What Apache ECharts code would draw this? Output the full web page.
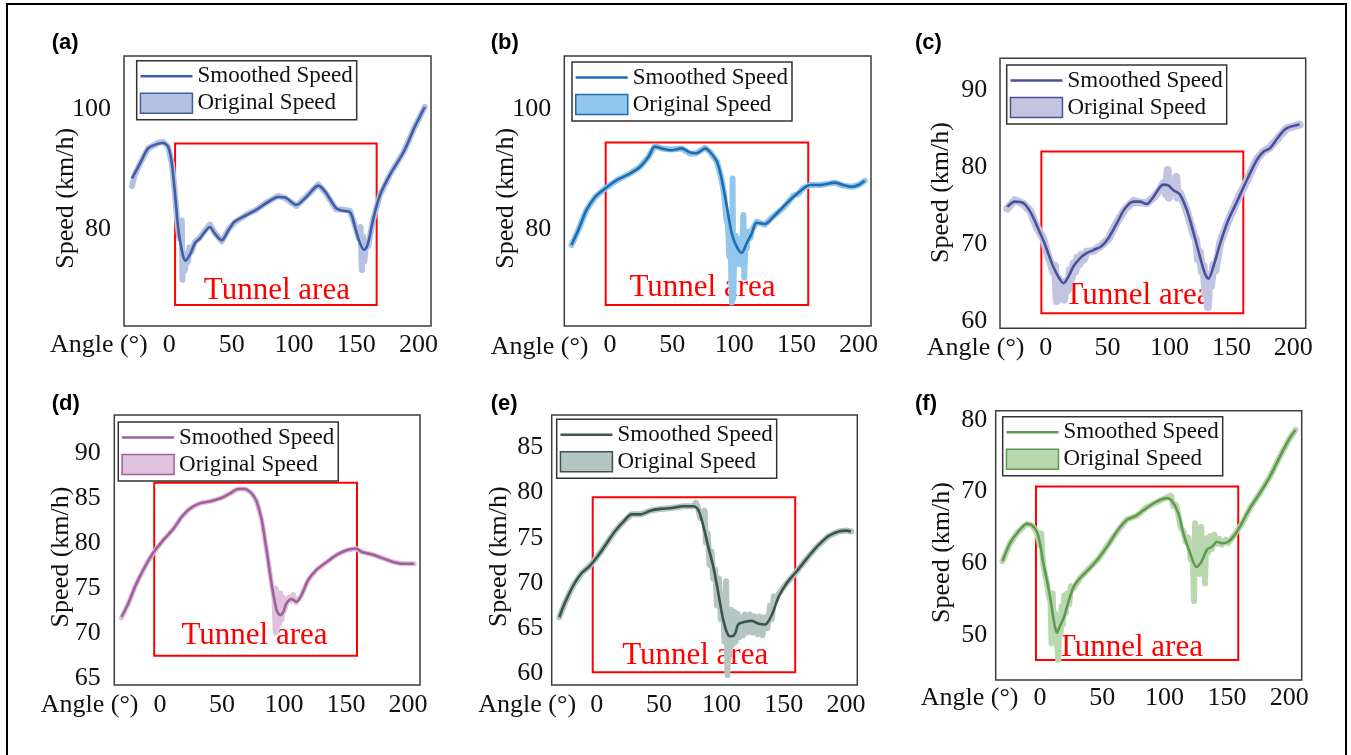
<!DOCTYPE html>
<html>
<head>
<meta charset="utf-8">
<script src="https://cdn.jsdelivr.net/npm/echarts@6/dist/echarts.min.js"></script>
<style>
  html, body { margin: 0; padding: 0; background: #fff; }
  body { width: 1351px; height: 755px; overflow: hidden; position: relative; }
  #frame { position: absolute; left: 6px; top: 3px; width: 1341px; height: 800px;
           border: 2px solid #000; box-sizing: border-box; }
  .panel { position: absolute; left: 0; top: 0; width: 1351px; height: 755px; }
</style>
</head>
<body>
<div id="frame"></div>
<div class="panel" id="pa"></div>
<div class="panel" id="pb"></div>
<div class="panel" id="pc"></div>
<div class="panel" id="pd"></div>
<div class="panel" id="pe"></div>
<div class="panel" id="pf"></div>
<script>
// ---- tick labels ----
const xTicks = [0, 50, 100, 150, 200];
const yTicksA = [80, 100];
const yTicksB = [80, 100];
const yTicksC = [60, 70, 80, 90];
const yTicksD = [65, 70, 75, 80, 85, 90];
const yTicksE = [60, 65, 70, 75, 80, 85];
const yTicksF = [50, 60, 70, 80];

// ---- tunnel section: [angle from, angle to, speed low, speed high] ----
const tunnelA = [4.6, 166.4, 67.4, 94.3];
const tunnelB = [-3.5, 159.5, 67.4, 94.5];
const tunnelC = [-3.5, 159.6, 61.0, 82.0];
const tunnelD = [-4.6, 158.9, 67.5, 86.7];
const tunnelE = [-3.2, 159.2, 60.1, 79.5];
const tunnelF = [-3.2, 159.1, 46.5, 70.7];

// ---- (a) [angle, speed] ----
const smoothedA = [[-30,88.5],[-23.5,91],[-17,93.5],[-9,94.3],[-5,94.4],[-1,93.8],[2,91],[4.5,86],[7,80.4],[10.5,76],[13,74.8],[17,76],[20.5,77.7],[24.5,78.5],[28.5,79.6],[32.5,80.4],[36.5,79.3],[42,78.2],[47.5,79.9],[52.5,81.3],[62,82.4],[70,83.3],[78,84.4],[87.5,85.4],[93,85.3],[102,84.1],[110,85.4],[119.5,87.3],[125,86.3],[134,83.5],[139.5,83.1],[145,82.9],[149,80.4],[153,77.7],[156.5,76.6],[159.5,77.7],[163.5,81.6],[169,85.7],[177,89.1],[188,92.9],[197,97.1],[205,100.4]];
const originalA = [[-30,87.2],[-28,89],[-23.5,91],[-17,93.5],[-9,94.4],[-5,94.6],[-1,93.8],[2,91],[4.5,86],[6.5,81],[8,78.5],[9,80],[10,81.5],[10.5,71.6],[11.5,76],[12.5,73.2],[13.5,75.5],[15,74.6],[16,77],[17.5,76.2],[20.5,77.9],[24.5,78.6],[28.5,79.8],[32.5,80.8],[36.5,79.4],[42,78],[47.5,80],[52.5,81.2],[62,82.5],[70,83.3],[78,84.5],[87.5,85.6],[93,85.2],[102,83.9],[110,85.5],[119.5,87.5],[125,86.2],[134,83.3],[139.5,83.3],[145,83.1],[149,80.6],[152,78.5],[153.5,80.4],[154.5,73.2],[155.5,78.8],[156.5,74.6],[158,77.8],[159.5,77.2],[163.5,81.6],[169,85.7],[177,89.1],[188,92.9],[197,97.1],[205,100.4]];

// ---- (b) ----
const smoothedB = [[-31,77.4],[-25.5,79.9],[-19,83.2],[-12,85.4],[-4,86.8],[5.5,88.2],[16,89.3],[24,90.4],[31,92.1],[36,93.8],[41.5,93.5],[49.5,93.2],[57.5,93.5],[64.5,92.8],[69.5,92.7],[76.5,93.5],[80.5,92.9],[86,91.3],[90,88.2],[94,83.8],[98,79.3],[102,77.1],[106,76.1],[110,77.7],[114,79.3],[118,81.1],[124.5,80.9],[131.5,82.1],[139.5,83.8],[147.5,85.4],[155.5,86.8],[161,87.4],[169,87.4],[181,87.8],[187.5,87.4],[194.5,87.1],[200,87.4],[205,88.1]];
const originalB = [[-31,77.4],[-25.5,79.9],[-19,83.2],[-12,85.4],[-4,86.8],[5.5,88.2],[16,89.3],[24,90.4],[31,92.1],[36,93.9],[41.5,93.5],[49.5,93.3],[57.5,93.5],[64.5,92.6],[69.5,92.7],[76.5,93.6],[80.5,92.9],[86,91.3],[89,89],[90.5,87.5],[92,85.5],[93.5,82],[95,80.5],[96,75.5],[97,79],[98,67.8],[98.6,88.5],[99.2,68.5],[100,76.5],[101,79],[102,74.5],[103,78.5],[104,74.2],[105,77.5],[106,74.8],[107.3,82.4],[108,72],[109,78.2],[110,76.8],[111,79.6],[113,78.6],[114,79.8],[118,81.3],[124.5,80.8],[131.5,82.2],[139.5,83.6],[147.5,85.6],[152,86],[155.5,86.9],[161,87.4],[169,87.4],[181,87.8],[187.5,87.3],[194.5,87.1],[200,87.4],[205,88.1]];

// ---- (c) ----
const smoothedC = [[-31,74.8],[-25,75.5],[-18,75.3],[-12.5,74.2],[-7.5,72.5],[-2,70.5],[2,68.8],[6,67.1],[10,65.8],[14.5,64.9],[18.5,65.8],[22.5,67.1],[27.5,68.1],[33,68.8],[38.5,69.2],[45,69.7],[50.5,70.7],[57.5,72.7],[64,74.6],[71,75.5],[76,75.5],[81.5,75.2],[87,76.1],[95,77.7],[99,77.6],[103,77],[108.5,76.4],[114,74.4],[119.5,71.4],[124.5,68.4],[128.5,66.2],[131.5,65.5],[135.5,67.1],[141,70.1],[147.5,73.1],[154.5,75.5],[162.5,78.3],[170.5,80.9],[176,82],[181,82.4],[188,83.9],[194.5,85],[205,85.5]];
const originalC = [[-31,74.6],[-25,75.7],[-18,75.2],[-12.5,74.3],[-7.5,72.3],[-2,70.7],[2,68.4],[4,67.5],[6,66.4],[7.5,67.2],[9,62.6],[10.5,65.5],[12,63],[13.5,65],[15,62.8],[16.5,65.2],[18,64],[19.5,66.6],[21,65.5],[22.5,67.5],[24,66.4],[25.5,68.2],[27.5,67.4],[29,68.6],[31,68],[33,69],[38.5,69.1],[45,69.8],[50.5,70.6],[57.5,72.8],[64,74.5],[71,75.6],[76,75.4],[81.5,75.3],[87,76],[92,77],[95,77.9],[97,76.5],[98.5,79.6],[99.5,76],[101,77.8],[103,76.6],[105.5,78.7],[106.5,76],[108.5,76.6],[114,74.3],[119.5,71.2],[121.5,70.5],[123,68],[124.5,69],[126,66.4],[127.5,67.2],[129,63.5],[130,66],[131,61.8],[132,65.2],[133.5,64.5],[135.5,67.3],[137,66.5],[141,70.2],[147.5,73],[154.5,75.6],[162.5,78.2],[170.5,81],[176,82],[181,82.5],[188,83.8],[194.5,85],[205,85.5]];

// ---- (d) ----
const smoothedD = [[-31,71.8],[-25.5,73.3],[-19,75.5],[-12,77.4],[-5.5,78.9],[2.5,80.3],[11,81.6],[17.5,82.9],[24,83.8],[32,84.4],[40,84.6],[49.5,85],[56.5,85.5],[63,86],[68.5,86],[74,85.5],[78,84.6],[82,82.6],[86,79.2],[90,75.5],[94,72.6],[97,72],[99.5,72.4],[102,73.3],[106,73.8],[110,73.5],[114,74.2],[119.5,75.9],[126,77],[134.5,77.9],[142.5,78.7],[150.5,79.2],[158,79.4],[163,79],[172,78.7],[180,78.3],[188,77.9],[196,77.7],[205,77.7]];
const originalD = [[-31,71.7],[-25.5,73.3],[-19,75.5],[-12,77.4],[-5.5,78.9],[2.5,80.3],[11,81.6],[17.5,82.9],[24,83.8],[32,84.4],[40,84.6],[49.5,85],[56.5,85.5],[63,86],[68.5,86],[74,85.5],[78,84.6],[82,82.6],[86,79.2],[90,75.5],[92,73.8],[93,70],[93.8,75],[94.6,70.3],[95.5,72.5],[96.5,71],[97.5,74.5],[98.5,71.5],[99.5,74],[100.5,72.5],[102,73.3],[104,74],[106,73.6],[107.5,74.3],[110,73.4],[114,74.2],[119.5,75.9],[126,77],[134.5,77.9],[142.5,78.7],[150.5,79.2],[158,79.4],[163,79],[172,78.7],[180,78.3],[188,77.9],[196,77.7],[205,77.7]];

// ---- (e) ----
const smoothedE = [[-30,66.2],[-25.5,67.8],[-18.5,69.8],[-12,71.1],[-5.5,71.9],[1.5,73.1],[8,74.4],[14.5,75.7],[21.5,76.8],[28,77.6],[35,77.6],[43,78],[51,78.2],[60,78.3],[69.5,78.5],[77.5,78.5],[81.5,78.1],[85.5,76.3],[89.5,74],[93.5,71.8],[97.5,68.9],[101.5,65.9],[105.5,64.2],[108.5,64.1],[111,64.4],[113.5,65.4],[119,65.7],[124.5,65.8],[129.5,65.5],[135,65.4],[140.5,66.5],[146,68.5],[152.5,70],[160.5,71.3],[168.5,72.7],[176.5,74],[186,75.2],[194,75.7],[200.5,75.8],[204,75.7]];
const originalE = [[-30,66.2],[-25.5,67.8],[-18.5,69.8],[-12,71.1],[-5.5,71.9],[1.5,73.1],[8,74.4],[14.5,75.7],[21.5,76.8],[28,77.6],[35,77.6],[43,78],[51,78.2],[60,78.3],[69.5,78.5],[77.5,78.5],[79.5,78.9],[81.5,78.2],[83,77.2],[85,77.5],[86.5,78],[87.5,74.5],[89,75.5],[90.5,72],[92,73.5],[93.5,70.5],[95,71.5],[96.5,67.5],[98,70.5],[99.5,66],[101,68.5],[102.5,63.5],[103.8,70.2],[104.8,59.8],[105.8,66.5],[106.8,62],[108,67],[109,63.2],[110.2,66.8],[111.5,63.5],[113,66.6],[114.5,64],[116,66.2],[117.5,64.2],[119,66.5],[121,64.5],[123,66.5],[125,64.5],[127,66.3],[129,64.3],[131,66.3],[133,64.2],[135,66.2],[137,65],[139,67.5],[140.5,66],[142,68.5],[144,68.2],[146,68.8],[152.5,70],[160.5,71.3],[168.5,72.7],[176.5,74],[186,75.2],[194,75.7],[200.5,75.8],[204,75.7]];

// ---- (f) ----
const smoothedF = [[-30,60.3],[-24,62.8],[-17.5,64.4],[-10.5,65.5],[-6.5,65.3],[-2.5,64.4],[0,62.8],[2.5,60.2],[5.5,57.7],[8.5,54.9],[11,52.1],[13.5,50.3],[16,51.2],[19.5,52.6],[22.5,54.4],[27,56.7],[32,57.9],[39,59.1],[47,60.7],[55,62.6],[61.5,64.4],[69.5,66],[77.5,66.7],[85.5,67.7],[93.5,68.6],[101.5,69.1],[105.5,68.8],[111,67],[115,64.2],[120.5,61.4],[125.5,59.5],[129.5,60.2],[134,61.9],[138,62.3],[142,63],[146,62.8],[151,63],[156.5,64],[162,65.6],[168.5,67.7],[176.5,69.8],[184.5,72.1],[192.5,74.9],[199.5,77.2],[205,78.6]];
const originalF = [[-30,60.3],[-24,62.8],[-17.5,64.4],[-10.5,65.5],[-6.5,65.3],[-2.5,64.4],[-1,64.6],[0,62.5],[1,64.2],[2.5,60],[4,58.5],[5.5,57.3],[7,55.5],[8.5,54.6],[9.3,48.8],[10.2,55.8],[11,51.5],[12.2,53],[13.5,49.5],[14.7,46.5],[15.5,52],[16.5,50],[17.5,54],[18.5,51.5],[19.5,55.5],[20.5,53],[22,55.8],[23.5,54.3],[25,56.8],[27,56.5],[32,57.9],[39,59.2],[47,60.6],[55,62.7],[61.5,64.3],[69.5,66.1],[77.5,66.6],[85.5,67.8],[93.5,68.5],[101.5,69.2],[105,69.4],[107,68],[109,68.2],[111,66.8],[113,65],[115,64.5],[117,63],[119,63.6],[121,60.5],[122.5,61.5],[123.6,54.7],[124.4,65.6],[125.5,59],[126.5,61],[128,58.5],[129.3,65.1],[130.5,60],[131.5,62.3],[132.4,57.2],[133.5,63.5],[135,61.5],[136.5,63.8],[138,62],[140,64],[142,62.7],[144,63.4],[146,62.6],[149,63.3],[151,62.8],[156.5,64.1],[162,65.5],[168.5,67.7],[176.5,69.8],[184.5,72.1],[192.5,74.9],[199.5,77.2],[205,78.6]];

const SERIF = "'Liberation Serif','Times New Roman',Times,serif";
const SANS = "'Liberation Sans',Arial,Helvetica,sans-serif";
const INK = '#111';

// panel layout (page pixels) and colours
const panels = [
  { el: 'pa', tag: '(a)', tagAt: [51.7, 43.3], angleAt: [50, 345], speedAt: [66, 198.3],
    box: [124, 56, 431, 326], xr: [-36.4, 210], yr: [63.9, 108.9], yTicks: yTicksA,
    xMargin: 6, yMargin: 13, legendAt: [136.7, 60.7], tunnelOffset: [1, 0.5], bandWidth: 6,
    line: '#3e5ea6', band: '#b4c1e0', smoothed: smoothedA, original: originalA, tunnel: tunnelA },
  { el: 'pb', tag: '(b)', tagAt: [490.7, 43.3], angleAt: [490.7, 346.7], speedAt: [505.8, 198.3],
    box: [564.3, 56, 871, 326], xr: [-36.8, 210], yr: [63.9, 108.9], yTicks: yTicksB,
    xMargin: 6, yMargin: 13, legendAt: [572, 62], tunnelOffset: [-4.5, -2.8], bandWidth: 6,
    line: '#1d6db0', band: '#92c6ec', smoothed: smoothedB, original: originalB, tunnel: tunnelB },
  { el: 'pc', tag: '(c)', tagAt: [915, 43.3], angleAt: [926.7, 348.3], speedAt: [941.3, 192.5],
    box: [1000, 58.3, 1305.7, 328.3], xr: [-36.9, 210], yr: [59.05, 94.1], yTicks: yTicksC,
    xMargin: 7, yMargin: 12.7, legendAt: [1006.7, 65], tunnelOffset: [-4.8, -2.5], bandWidth: 8,
    line: '#4a509a', band: '#c2c5e0', smoothed: smoothedC, original: originalC, tunnel: tunnelC },
  { el: 'pd', tag: '(d)', tagAt: [51.7, 404], angleAt: [40.7, 705], speedAt: [61, 557],
    box: [114.3, 415, 420, 685], xr: [-36.8, 209.7], yr: [64.26, 94.2], yTicks: yTicksD,
    xMargin: 7, yMargin: 13.6, legendAt: [118.3, 422], tunnelOffset: [-1.1, -5.5], bandWidth: 5,
    line: '#a0609c', band: '#dfc2dc', smoothed: smoothedD, original: originalD, tunnel: tunnelD },
  { el: 'pe', tag: '(e)', tagAt: [490.7, 404], angleAt: [478.3, 705], speedAt: [499, 556.7],
    box: [551.7, 415, 857.3, 685], xr: [-36.1, 209], yr: [58.7, 88.6], yTicks: yTicksE,
    xMargin: 7, yMargin: 8.4, legendAt: [556.7, 419.3], tunnelOffset: [1.2, -1.5], bandWidth: 6,
    line: '#3b5450', band: '#b5c5c2', smoothed: smoothedE, original: originalE, tunnel: tunnelE },
  { el: 'pf', tag: '(f)', tagAt: [915, 404], angleAt: [920.7, 698.3], speedAt: [942, 552.5],
    box: [995.7, 410.7, 1301.7, 680], xr: [-35.5, 210], yr: [43.7, 81.3], yTicks: yTicksF,
    xMargin: 5.3, yMargin: 8.4, legendAt: [1002.7, 416.7], tunnelOffset: [-7.2, 2.2], bandWidth: 6,
    line: '#5f9a50', band: '#b9d8b0', smoothed: smoothedF, original: originalF, tunnel: tunnelF }
];

function buildOption(p) {
  const [bl, bt, br, bb] = p.box;
  const t = p.tunnel;
  return {
    animation: false,
    grid: {
      left: bl, top: bt, width: br - bl, height: bb - bt,
      show: true, borderColor: '#3c3c3c', borderWidth: 1.5, backgroundColor: 'transparent'
    },
    xAxis: {
      type: 'value', min: p.xr[0], max: p.xr[1],
      axisLine: { show: false }, axisTick: { show: false }, splitLine: { show: false },
      axisLabel: { customValues: xTicks, margin: p.xMargin, fontSize: 26, fontFamily: SERIF, color: INK }
    },
    yAxis: {
      type: 'value', min: p.yr[0], max: p.yr[1],
      axisLine: { show: false }, axisTick: { show: false }, splitLine: { show: false },
      axisLabel: { customValues: p.yTicks, margin: p.yMargin, fontSize: 26, fontFamily: SERIF, color: INK }
    },
    legend: {
      orient: 'vertical', left: p.legendAt[0], top: p.legendAt[1],
      padding: [4, 4, 5, 3], itemGap: 4, itemWidth: 52, itemHeight: 20,
      borderColor: '#333', borderWidth: 1.5, selectedMode: false,
      textStyle: { fontFamily: SERIF, fontSize: 23, color: INK },
      data: [
        { name: 'Smoothed Speed', icon: 'path://M0,0L52,0L52,2.4L0,2.4Z',
          itemStyle: { color: p.line, borderWidth: 0 } },
        { name: 'Original Speed', icon: 'rect',
          itemStyle: { color: p.band, borderColor: p.line, borderWidth: 1.5 } }
      ]
    },
    graphic: [
      { type: 'text', x: p.tagAt[0], y: p.tagAt[1],
        style: { text: p.tag, font: 'bold 22px ' + SANS, fill: '#000', align: 'left', verticalAlign: 'middle' } },
      { type: 'text', x: p.angleAt[0], y: p.angleAt[1],
        style: { text: 'Angle (°)', font: '26px ' + SERIF, fill: INK, align: 'left', verticalAlign: 'middle' } },
      { type: 'text', x: p.speedAt[0], y: p.speedAt[1], rotation: Math.PI / 2,
        style: { text: 'Speed (km/h)', font: '26px ' + SERIF, fill: INK, align: 'center', verticalAlign: 'middle' } }
    ],
    series: [
      {
        name: 'Original Speed', type: 'line', data: p.original, symbol: 'none', z: 2,
        color: p.band,
        lineStyle: { color: p.band, width: p.bandWidth, join: 'round', cap: 'round' },
        markArea: {
          silent: true,
          itemStyle: { color: 'rgba(0,0,0,0)', borderColor: '#ff0000', borderWidth: 2 },
          label: { show: true, position: 'insideBottom', distance: 0, offset: p.tunnelOffset,
                   color: '#ff0000', fontSize: 31, fontFamily: SERIF },
          emphasis: { disabled: true },
          data: [[ { name: 'Tunnel area', coord: [t[0], t[2]] }, { coord: [t[1], t[3]] } ]]
        }
      },
      {
        name: 'Smoothed Speed', type: 'line', data: p.smoothed, symbol: 'none', z: 3,
        smooth: 0.3, color: p.line,
        lineStyle: { color: p.line, width: 2.6 }
      }
    ]
  };
}

panels.forEach(p => {
  const chart = echarts.init(document.getElementById(p.el), null, { renderer: 'canvas' });
  chart.setOption(buildOption(p));
});
</script>
</body>
</html>
